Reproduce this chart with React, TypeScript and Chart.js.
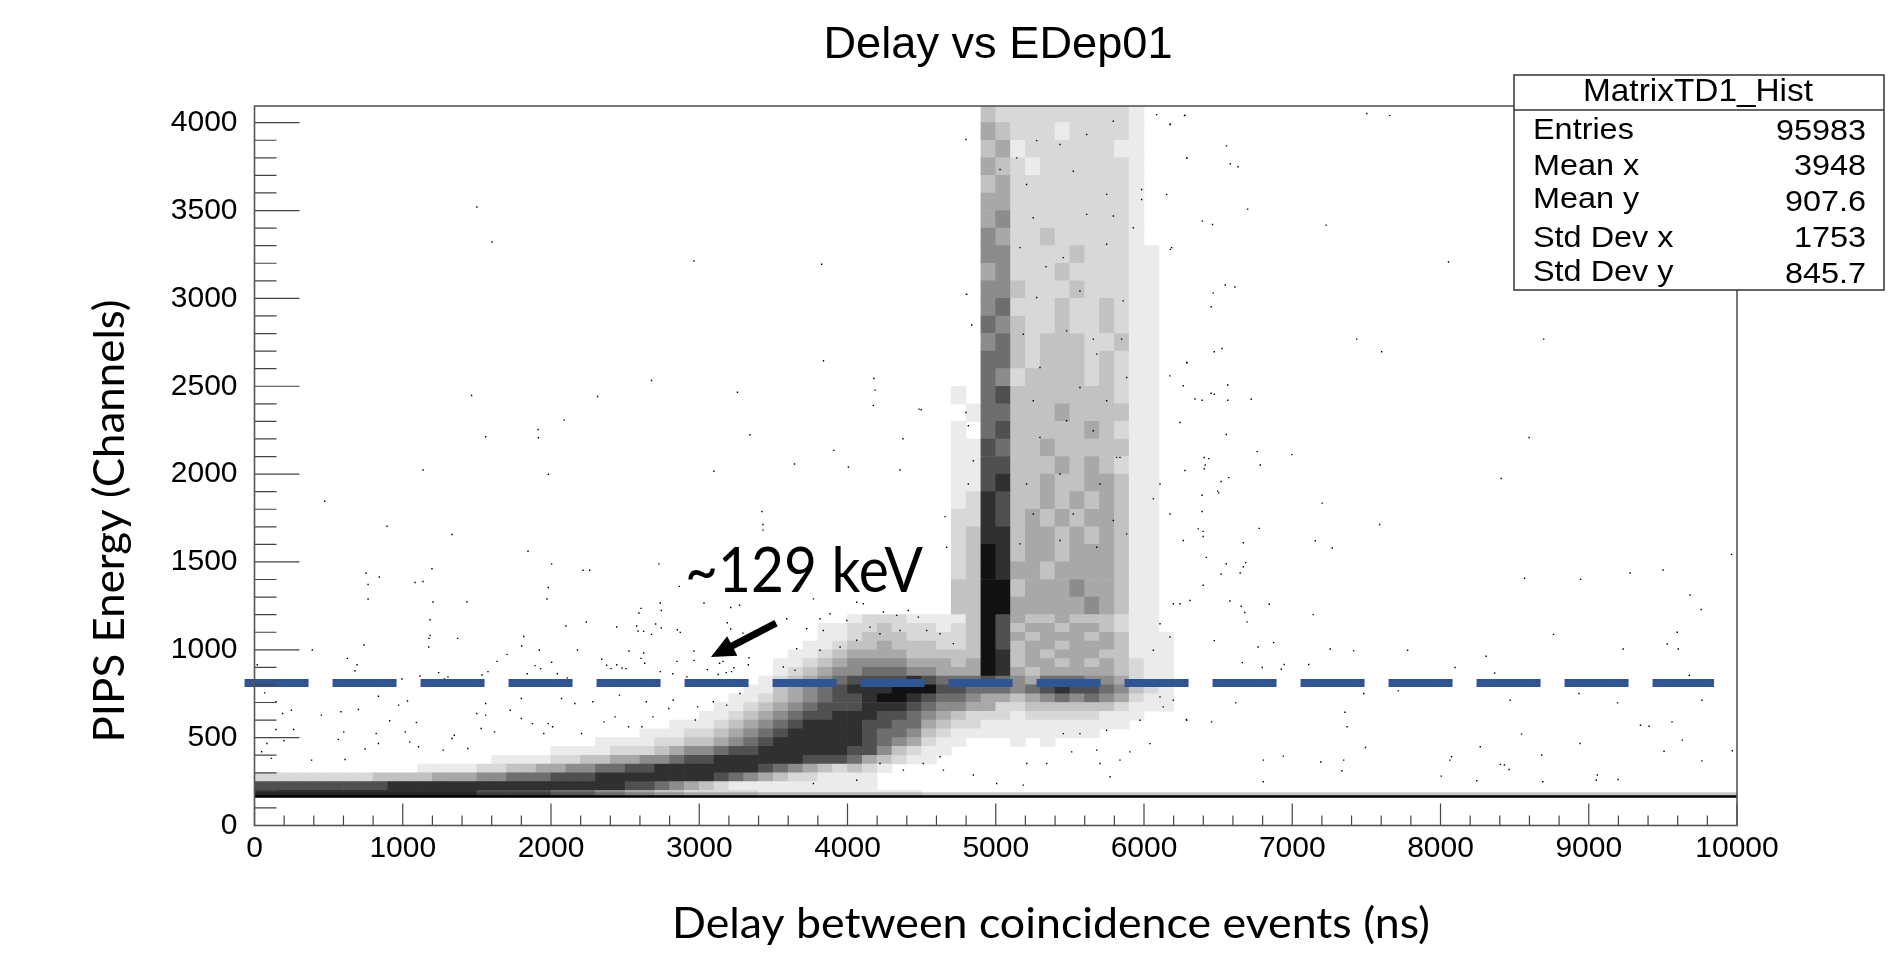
import React, { useEffect, useRef } from "react";
import { Chart, registerables } from "chart.js";

Chart.register(...registerables);

const chartTitle = "Delay vs EDep01";
const xAxisTitle = "Delay between coincidence events (ns)";
const yAxisTitle = "PIPS Energy (Channels)";
const calloutText = "~129 keV";
const statsTitle = "MatrixTD1_Hist";
const statsLabels = ["Entries", "Mean x", "Mean y", "Std Dev x", "Std Dev y"];
const statsValues = ["95983", "3948", "907.6", "1753", "845.7"];
const yTickValues = [0, 500, 1000, 1500, 2000, 2500, 3000, 3500, 4000];

const thresholdLevel = 811;
const thresholdStart = -67;
const thresholdEnd = 9845;
const floorLevel = 165;
const arrowTail = { x: 3518, y: 1152 };
const arrowTip = { x: 3079, y: 959 };

// Estimated ink density (0-9) in 100-wide delay bins.
// Low-energy region: each row is 50 channels tall, columns start at delay 0.
const lowBandCentres = [1175,1125,1075,1025,975,925,875,825,775,725,675,625,575,525,475,425,375,325,275,225,175];
const lowBandRows = [
  "00000 00000 00000 00000 00000 00000 00000 00000 12221 11139 74334 33321 10000",
  "00000 00000 00000 00000 00000 00000 00000 00011 22322 21239 73443 44321 10000",
  "00000 00000 00000 00000 00000 00000 00000 00011 23332 22239 74344 43431 11000",
  "00000 00000 00000 00000 00000 00000 00000 00112 33433 32239 73443 44431 11000",
  "00000 00000 00000 00000 00000 00000 00000 01123 44443 33339 83434 44331 11000",
  "00000 00000 00000 00000 00000 00000 00000 11234 55554 44349 83443 43432 11000",
  "00000 00000 00000 00000 00000 00000 00000 12345 56665 54449 84344 44432 11000",
  "00000 00000 00000 00000 00000 00000 00001 23456 77778 76667 65466 65542 11000",
  "00000 00000 00000 00000 00000 00000 00011 34567 88899 97766 65678 77653 21000",
  "00000 00000 00000 00000 00000 00000 00112 34567 78998 76654 43456 56542 11000",
  "00000 00000 00000 00000 00000 00000 01123 45677 78887 65544 22333 33321 11000",
  "00000 00000 00000 00000 00000 00000 11234 56778 88776 54322 21222 22111 00000",
  "00000 00000 00000 00000 00000 00011 12345 67888 87766 43221 11111 11110 00000",
  "00000 00000 00000 00000 00000 01112 23456 78888 87665 32111 11111 11000 00000",
  "00000 00000 00000 00000 00011 11223 34567 88888 87654 21100 01010 00000 00000",
  "00000 00000 00000 00000 11112 22345 56778 88888 77532 11000 00000 00000 00000",
  "00000 00000 00000 01111 22334 45567 78888 88777 64321 10000 00000 00000 00000",
  "00000 00000 01111 22334 45566 77888 88887 65432 32100 00000 00000 00000 00000",
  "22222 22233 33444 55666 77788 88888 87654 32211 11000 00000 00000 00000 00000",
  "77777 77778 88888 88888 88888 77654 32111 11111 11000 00000 00000 00000 00000",
  "88888 88888 88888 77777 66655 44332 22221 11111 11111 00000 00000 00000 00000",
];

// Upper region: each row is 100 channels tall, columns start at delay 4700.
const highBandFirstBin = 4700;
const highBandCentres = [4050,3950,3850,3750,3650,3550,3450,3350,3250,3150,3050,2950,2850,2750,2650,2550,2450,2350,2250,2150,2050,1950,1850,1750,1650,1550,1450,1350,1250];
const highBandRows = [
  "0032222222221000","0043222122221000","0034122222211000","0043212222221000",
  "0034222222221000","0044222222221000","0045222222221000","0054223222221000",
  "0055222232221100","0045222322221100","0055322232221100","0056222322321100",
  "0065322322321100","0056323332231100","0066323332321100","0065233332321100",
  "1067333333321100","0166333433331100","1067333334321100","1176334333331100",
  "1177333434321100","1178334334431100","1287334343431100","2287343434431100",
  "2388344343431100","2398344344431100","2398443444431100","3399344454431100",
  "3399444445431100",
];
const densityGreys = ["#ffffff","#ebebeb","#d8d8d8","#c2c2c2","#a8a8a8","#8c8c8c","#6e6e6e","#505050","#303030","#121212"];

// Individual events.
const eventsUpperLeft = [[1500,3520],[1602,3321],[2964,3213],[3826,3194],[3838,2645],[2678,2533],[1464,2447],[2314,2442],[3258,2466],[4178,2544],[4186,2478],[4174,2391],[4497,2366],[2089,2307],[1913,2254],[3908,2135],[3642,2057],[4006,2040],[4374,2201],[4354,2023],[4483,2370],[4801,3023]];
const eventsUpperRight = [[7503,4052],[7658,4040],[6273,4040],[6178,3993],[6557,3868],[6290,3800],[6582,3766],[6634,3749],[6699,3508],[6393,3440],[6462,3421],[7228,3417],[8054,3207],[6178,3279],[6548,3076],[6613,3065],[6290,2633]];
const eventsRightMid = [[6467,3030],[6453,2952],[7435,2768],[8696,2768],[6474,2696],[6527,2715],[7603,2696],[6565,2507],[6453,2460],[6474,2454],[6392,2420],[6565,2420],[6723,2426],[6555,2225],[6763,2128],[6997,2111],[8598,2208],[6406,2094],[6436,2088],[6413,2052],[6784,2052],[6406,2030],[6572,1980],[6520,1958],[8409,1975],[6497,1903],[6504,1893],[6392,1880],[7202,1835],[6392,1787],[7589,1713],[6777,1691],[6399,1674],[6399,1645],[6670,1609],[7155,1621],[7270,1579],[9963,1543],[6420,1526],[6555,1490],[6686,1496],[6670,1473],[6520,1431],[6649,1437],[9501,1454],[9279,1437],[8567,1407],[8945,1401],[6399,1367],[6579,1278],[6656,1248],[6845,1259],[9683,1312],[9758,1229],[6679,1212],[7141,1200],[6695,1159],[8763,1088],[9597,1100],[6474,1052],[6875,1041],[9529,1033],[6770,1016],[7256,1005],[7414,994],[7778,997],[9232,1005],[9604,1005],[8308,963],[6663,927],[7111,916],[6945,916],[6798,899],[6926,889],[8098,899]];
const eventsRightLow = [[8365,868],[9678,855],[7715,766],[7482,751],[8934,751],[6619,698],[9194,698],[9763,713],[8470,713],[7355,645],[6286,603],[6456,590],[9562,590],[9349,571],[9407,565],[7370,562],[8547,520],[9631,486],[8942,467],[7494,444],[8268,448],[6805,372],[6940,395],[7192,361],[7347,372],[7335,312],[8075,391],[8063,372],[8431,344],[8404,348],[8462,319],[8683,401],[9508,423],[9968,425],[9763,368],[8005,281],[9058,287],[9051,258],[9198,262],[8245,255],[8690,249],[6805,249]];
const eventsLeftMid = [[1559,2213],[1915,2207],[3342,2224],[1137,2023],[3099,2016],[1982,1999],[474,1845],[894,1703],[1332,1656],[1845,1561],[3423,1787],[3430,1713],[3430,1681],[752,1436],[842,1414],[1197,1461],[2004,1489],[2216,1453],[2261,1453],[2728,1489],[766,1372],[1083,1383],[1137,1389],[1982,1355],[2866,1361],[766,1289],[1204,1272],[1433,1272],[1973,1289],[2737,1266],[3032,1266],[2607,1236],[2593,1209],[2744,1224],[3212,1241],[3272,1254],[1184,1171],[2238,1158],[2101,1135],[2443,1130],[2578,1135],[2706,1147],[2744,1124],[2587,1107],[2625,1105],[2677,1088],[2852,1114],[2872,1099],[3189,1154],[3212,1118],[3295,1095],[1184,1082],[1177,1065],[1370,1065],[1816,1076],[1175,1016],[739,1027],[1802,1022],[390,999],[1921,999],[2178,999],[2526,993],[2964,993],[1703,974],[2625,982],[626,951],[2607,951],[1636,934],[2004,929],[2342,946],[2850,934],[2964,940],[3335,955],[692,915],[2632,923],[2375,912],[2443,915],[1892,910],[678,881],[19,915],[1930,893],[2405,893],[2479,896],[2506,893],[3160,934],[3137,923],[3331,915],[3054,887],[1575,876],[2737,876],[3234,898],[3218,876],[3182,870],[3128,859],[2821,864],[1840,864],[2043,864],[1242,870],[1116,851],[1305,846],[1535,857],[2917,846],[2110,840],[1281,834],[995,834]];
const eventsLeftLow = [[69,755],[144,704],[249,656],[189,637],[451,628],[583,647],[701,660],[821,524],[602,533],[565,490],[144,546],[264,546],[198,482],[48,420],[84,467],[114,382],[385,372],[611,376],[746,435],[836,467],[912,596],[972,685],[1032,709],[836,736],[1092,586],[1017,533],[1047,476],[1348,514],[1333,495],[1559,694],[1559,628],[1499,637],[1800,723],[1725,656],[1800,609],[1875,580],[2011,562],[2161,694],[2071,723],[1981,580],[1951,524],[1619,533],[1529,552],[1439,438],[1273,429],[1107,448],[2282,704],[2462,742],[2643,704],[2824,713],[2432,618],[2357,590],[2523,562],[2206,524],[2794,666],[2688,618],[2613,562],[2989,675],[3095,704],[3185,685],[3275,751],[2974,600]];
const eventsCloud = [[5276,3898],[5029,3734],[5984,3620],[5984,3563],[5793,3469],[5339,3181],[5849,2768],[5658,2768],[5815,2095],[4799,3904],[4804,3023],[4838,2849],[4799,2351],[4815,2275],[4849,2076],[4815,1944],[4658,1758],[4669,1584],[6063,1859],[6108,1944],[6288,3800],[6175,3989],[6276,4042],[6085,4046],[6153,3592],[6186,3289],[6288,2635],[6175,2559],[6265,2503],[6344,2427],[6243,2294],[6276,2020],[6366,1688],[6265,1622],[6175,1773],[5141,3800],[5433,3876],[5613,3933],[5793,4008],[5208,3648],[5523,3724],[5748,3592],[5253,3459],[5613,3478],[5928,3402],[5164,3289],[5456,3232],[5748,3308],[5276,3005],[5568,3042],[5860,2986],[5186,2796],[5478,2815],[5681,2683],[5883,2550],[5298,2607],[5568,2493],[5253,2417],[5748,2417],[5478,2304],[5658,2247],[5298,2209],[5838,2095],[5433,2001],[5703,1944],[5208,1944],[5523,1773],[5793,1736],[5253,1773],[5433,1622],[5681,1584],[5164,1603],[5883,1660]];
const eventsHump = [[3770,1290],[4062,1271],[4107,1262],[4242,1215],[4410,1224],[4332,1196],[4478,1186],[3995,1167],[3882,1205],[3725,1120],[3837,1110],[3590,1177],[3815,1177],[4152,1129],[4219,1091],[4354,1110],[4534,1110],[4624,1091],[4714,1035],[3950,1016],[4062,1054],[3657,1006],[3567,902],[3646,883],[3815,997],[4624,391],[4377,315],[4511,353],[4647,315],[4219,353],[4062,258],[3770,239],[4849,287],[5006,239],[5209,353],[5343,353],[5512,419],[5703,353],[5838,372],[6040,466],[5771,277],[5186,230],[5905,419],[5681,429],[5456,523],[5568,523],[5748,542],[6288,599],[6130,675],[6198,713],[5973,599],[6108,732],[6243,1262],[6198,1262],[6310,1281],[6108,1148],[6175,1073],[6063,997]];

function toBars(rows: string[], centres: number[], halfHeight: number, firstBin: number) {
  const data: { x: number; y: [number, number] }[] = [];
  const colours: string[] = [];
  rows.forEach((row, r) => {
    row.replace(/ /g, "").split("").forEach((digit, c) => {
      if (digit === "0") return;
      const lo = Math.max(centres[r] - halfHeight, floorLevel);
      data.push({ x: firstBin + c * 100 + 50, y: [lo, centres[r] + halfHeight] });
      colours.push(densityGreys[Number(digit)]);
    });
  });
  return { data, colours };
}

function fitted(ctx: CanvasRenderingContext2D, text: string, x: number, y: number, width: number, font: string, rotate = 0) {
  ctx.save();
  ctx.font = font;
  ctx.textAlign = "center";
  ctx.textBaseline = "middle";
  ctx.fillStyle = "#000";
  ctx.translate(x, y);
  if (rotate) ctx.rotate(rotate);
  ctx.scale(width / ctx.measureText(text).width, 1);
  ctx.fillText(text, 0, 0);
  ctx.restore();
}

function stretched(ctx: CanvasRenderingContext2D, text: string, x: number, y: number, align: CanvasTextAlign) {
  ctx.save();
  ctx.font = "30px 'Liberation Sans'";
  ctx.textAlign = align;
  ctx.textBaseline = "middle";
  ctx.fillStyle = "#000";
  ctx.translate(x, y);
  ctx.scale(1.08, 1);
  ctx.fillText(text, 0, 0);
  ctx.restore();
}

const decorations = {
  id: "decorations",
  afterDraw(chart: any) {
    const { ctx, chartArea: a, scales } = chart;
    const xs = scales.x;
    const ys = scales.y;
    ctx.save();
    ctx.strokeStyle = "#444";
    ctx.lineWidth = 1.2;
    ctx.beginPath();
    for (let v = 0; v <= 10000; v += 200) {
      const p = xs.getPixelForValue(v);
      ctx.moveTo(p, a.bottom);
      ctx.lineTo(p, a.bottom - (v % 1000 === 0 ? 22 : 10));
    }
    for (let v = 0; v <= 4000; v += 100) {
      const p = ys.getPixelForValue(v);
      ctx.moveTo(a.left, p);
      ctx.lineTo(a.left + (v % 500 === 0 ? 45 : 22), p);
    }
    ctx.stroke();
    ctx.lineWidth = 1.6;
    ctx.strokeStyle = "#555";
    ctx.strokeRect(a.left, a.top, a.right - a.left, a.bottom - a.top);

    // Callout arrow, anchored to data values.
    const tx = xs.getPixelForValue(arrowTail.x);
    const ty = ys.getPixelForValue(arrowTail.y);
    const hx = xs.getPixelForValue(arrowTip.x);
    const hy = ys.getPixelForValue(arrowTip.y);
    const len = Math.hypot(hx - tx, hy - ty);
    const ux = (hx - tx) / len;
    const uy = (hy - ty) / len;
    const nx = -uy;
    const ny = ux;
    const neck = 24;
    ctx.fillStyle = "#000";
    ctx.beginPath();
    ctx.moveTo(tx + nx * 3.6, ty + ny * 3.6);
    ctx.lineTo(hx - ux * neck + nx * 3.6, hy - uy * neck + ny * 3.6);
    ctx.lineTo(hx - ux * neck + nx * 11, hy - uy * neck + ny * 11);
    ctx.lineTo(hx, hy);
    ctx.lineTo(hx - ux * neck - nx * 11, hy - uy * neck - ny * 11);
    ctx.lineTo(hx - ux * neck - nx * 3.6, hy - uy * neck - ny * 3.6);
    ctx.lineTo(tx - nx * 3.6, ty - ny * 3.6);
    ctx.closePath();
    ctx.fill();

    // Statistics box.
    ctx.fillStyle = "#fff";
    ctx.fillRect(1514, 75, 370, 215);
    ctx.strokeStyle = "#333";
    ctx.lineWidth = 1.5;
    ctx.strokeRect(1514, 75, 370, 215);
    ctx.beginPath();
    ctx.moveTo(1514, 110);
    ctx.lineTo(1884, 110);
    ctx.stroke();
    ctx.restore();

    fitted(ctx, statsTitle, 1698, 92, 230, "32px 'Liberation Sans'");
    const labelY = [131, 167, 200, 239, 273];
    const valueY = [132, 167, 203, 239, 275];
    statsLabels.forEach((t, i) => stretched(ctx, t, 1533, labelY[i], "left"));
    statsValues.forEach((t, i) => stretched(ctx, t, 1866, valueY[i], "right"));

    fitted(ctx, chartTitle, 998, 46, 349, "44px 'Liberation Sans'");
    fitted(ctx, xAxisTitle, 1051, 924, 758, "42px Lato");
    fitted(ctx, yAxisTitle, 110, 521, 443, "42px Lato", -Math.PI / 2);
    fitted(ctx, calloutText, 804, 572, 238, "62px Lato");
  },
};

export default function App() {
  const ref = useRef<HTMLCanvasElement>(null);
  useEffect(() => {
    const low = toBars(lowBandRows, lowBandCentres, 25, 0);
    const high = toBars(highBandRows, highBandCentres, 50, highBandFirstBin);
    const events = [
      ...eventsUpperLeft, ...eventsUpperRight, ...eventsRightMid, ...eventsRightLow,
      ...eventsLeftMid, ...eventsLeftLow, ...eventsCloud, ...eventsHump,
    ].map(([x, y]) => ({ x, y }));
    const barStyle = { barPercentage: 1, categoryPercentage: 1, grouped: false, borderWidth: 0 };
    const chart = new Chart(ref.current as HTMLCanvasElement, {
      type: "bar",
      data: {
        datasets: [
          { label: "Low band density", data: low.data as any, backgroundColor: low.colours, order: 5, ...barStyle },
          { label: "High band density", data: high.data as any, backgroundColor: high.colours, order: 5, ...barStyle },
          { type: "line", label: "Floor fuzz", data: [{ x: 0, y: floorLevel + 10 }, { x: 10000, y: floorLevel + 10 }] as any, borderColor: "rgba(0,0,0,0.22)", borderWidth: 5, pointRadius: 0, order: 4 },
          { type: "line", label: "Floor", data: [{ x: 0, y: floorLevel }, { x: 10000, y: floorLevel }] as any, borderColor: "#000", borderWidth: 2.5, pointRadius: 0, order: 3 },
          { type: "scatter", label: "Events", data: events as any, backgroundColor: "#000", pointStyle: "rect", pointRadius: 1, borderWidth: 0, order: 2 },
          { type: "line", label: "~129 keV threshold", data: [{ x: thresholdStart, y: thresholdLevel }, { x: thresholdEnd, y: thresholdLevel }] as any, borderColor: "#2F5597", borderWidth: 8, borderDash: [64, 24], pointRadius: 0, clip: false as any, order: 1 },
        ],
      },
      options: {
        responsive: false,
        animation: false,
        layout: { padding: { left: 0, top: 106, right: 163, bottom: 0 } },
        plugins: { legend: { display: false }, tooltip: { enabled: false }, title: { display: false } },
        scales: {
          x: {
            type: "linear",
            min: 0,
            max: 10000,
            offset: false,
            grid: { display: false },
            border: { display: false },
            afterFit: (s: any) => { s.height = 129.5; },
            ticks: {
              stepSize: 1000,
              maxRotation: 0,
              autoSkip: false,
              padding: -3,
              color: "#000",
              font: { family: "'Liberation Sans'", size: 30 },
              callback: (v: any) => String(v),
            },
          },
          y: {
            type: "linear",
            min: 0,
            max: 4095,
            grid: { display: false },
            border: { display: false },
            afterFit: (s: any) => { s.width = 254.5; },
            afterBuildTicks: (s: any) => { s.ticks = yTickValues.map((value) => ({ value })); },
            ticks: {
              autoSkip: false,
              padding: 9,
              color: "#000",
              font: { family: "'Liberation Sans'", size: 30 },
              callback: (v: any) => String(v),
            },
          },
        },
      },
      plugins: [decorations],
    } as any);
    return () => chart.destroy();
  }, []);
  return (
    <div style={{ position: "absolute", left: 0, top: 0, width: 1900, height: 955, overflow: "hidden" }}>
      <canvas ref={ref} width={1900} height={955} style={{ display: "block" }} />
    </div>
  );
}
